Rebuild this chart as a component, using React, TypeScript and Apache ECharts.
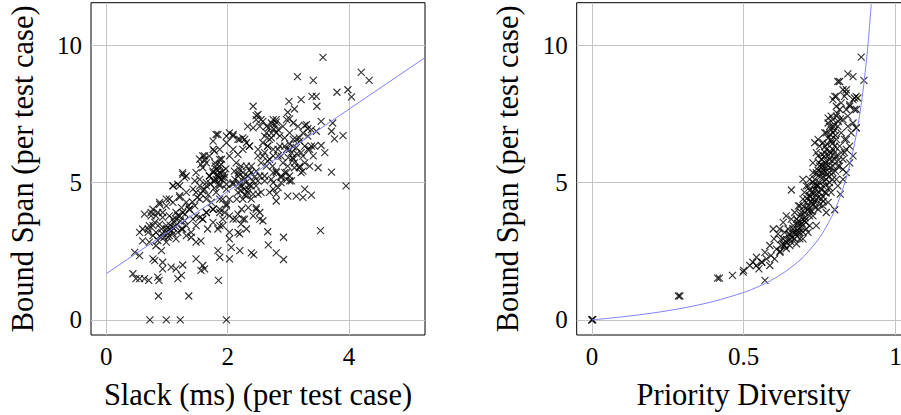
import React, { useEffect, useRef } from "react";
import * as echarts from "echarts";

// Left panel: Slack (ms) vs Bound Span
const slackPoints: [number, number][] = [
  [3.57,9.56],[3.15,8.86],[3.41,8.72],[4.20,9.01],[4.33,8.72],[3.80,8.29],[3.98,8.38],[4.04,8.12],[3.46,8.14],[3.39,8.14],
  [3.21,8.02],[3.01,7.96],[2.42,7.78],[3.47,7.78],[3.10,7.68],[2.99,7.56],[2.47,7.44],[2.55,7.29],[2.75,7.29],[2.80,7.20],
  [3.02,7.32],[3.27,7.08],[3.32,6.96],[3.54,7.23],[3.73,7.17],[3.71,6.87],[3.76,6.59],[3.90,6.71],[3.54,6.35],[3.60,6.09],
  [3.49,5.54],[3.71,5.38],[3.95,4.88],[3.24,5.42],[3.18,5.54],[2.99,5.60],[3.10,5.72],[3.32,6.21],[3.38,6.33],[3.13,6.57],
  [3.18,6.63],[2.94,6.33],[3.02,6.21],[2.61,6.69],[2.69,6.57],[2.83,6.93],[2.64,7.05],[2.33,7.05],[2.66,6.33],[2.83,6.21],
  [2.88,5.96],[3.07,5.91],[3.24,5.96],[2.28,6.57],[2.36,6.33],[2.50,6.21],[2.58,5.96],[2.66,5.78],[2.74,5.60],[2.80,5.42],
  [2.97,5.36],[2.88,5.24],[2.39,5.60],[2.47,5.42],[2.33,5.24],[2.61,5.24],[2.72,5.12],[2.50,5.06],
  [3.27,4.76],[3.38,4.54],[2.99,4.51],[3.13,4.51],[3.24,4.46],[2.80,4.33],[2.75,4.76],[2.88,5.00],[3.02,5.06],[2.50,4.58],
  [2.39,4.88],[2.33,4.64],[2.28,4.76],[2.47,4.03],[2.53,3.91],[2.58,3.61],[2.28,3.67],[2.66,3.21],[2.92,3.01],[3.53,3.25],
  [2.67,2.73],[2.80,2.44],[2.92,2.20],[2.39,2.44],[2.43,2.37],
  [0.72,0],[0.99,0],[1.22,0],[1.98,0],[0.86,0.87],[1.36,0.87],[1.85,1.44],
  [0.44,1.68],[0.49,1.50],[0.55,1.50],[0.63,1.50],[0.70,1.44],[0.85,1.56],[0.87,1.44],[1.18,1.50],[1.24,1.62],
  [0.93,1.86],[1.07,1.92],[1.15,1.86],[1.26,2.00],[0.93,2.10],[0.77,2.22],[0.80,2.16],[1.48,2.22],[1.59,1.98],[1.62,1.86],
  [1.56,1.80],[0.47,2.46],[0.55,2.34],[1.84,2.52],[1.87,2.28],[2.03,2.22],[2.06,2.64],[2.20,2.52],
  [0.60,2.88],[0.71,2.83],[0.82,2.70],[0.91,2.52],[0.63,3.85],[0.74,3.79],[0.85,3.91],[0.55,3.19],[0.69,3.31],[0.77,3.43],
  [0.88,3.49],[0.99,3.31],[1.10,3.37],[1.04,3.07],[1.18,3.19],[1.26,3.31],[1.32,3.07],[1.40,3.01],[1.48,2.83],[1.56,2.88],
  [0.93,3.73],[1.04,3.79],[1.15,3.67],[1.26,3.91],[1.37,4.03],[1.48,3.79],[1.59,3.67],[1.67,3.31],[1.76,3.55],[1.87,3.43],
  [1.92,3.67],[2.03,3.79],[0.88,4.21],[0.99,4.40],[1.10,4.28],[1.21,4.46],[1.32,4.64],[1.43,4.76],[1.54,4.88],[1.65,5.00],
  [1.76,5.06],[1.87,4.88],[1.98,4.76],[2.09,4.94],[2.20,5.00],[0.77,4.03],[2.17,3.19],[2.14,3.67],[2.22,3.49],
  [1.54,3.73],[1.65,3.91],[1.76,4.03],[1.87,4.03],[1.95,3.91],[1.98,4.21],[1.87,4.40],
  [1.81,6.75],[1.98,6.69],[2.09,6.75],[2.17,6.57],[2.25,6.63],[1.87,6.21],[1.78,6.15],[1.62,5.84],[1.70,5.96],[1.56,5.66],
  [1.59,5.54],[1.87,5.84],[1.89,5.66],[1.26,5.30],[1.32,5.24],[2.14,5.72],[2.22,5.60],[2.11,5.42],[2.17,5.24],[2.25,5.36],
  [1.48,5.36],[1.54,5.12],[1.46,5.06],[1.76,5.42],[1.87,5.36],[1.92,5.18],[1.81,5.12],[1.70,5.24],[1.10,4.88],[1.18,4.94],
  [2.09,5.00],[2.20,4.88],
  [2.20,5.48],[2.31,5.60],[2.39,5.36],[2.28,5.12],[2.42,5.06],[2.53,5.24],[2.23,4.88],[2.34,4.76],[2.47,4.88],[2.61,5.06],
  [2.17,4.64],[2.31,4.52],[2.42,4.58],[2.55,4.64],[2.25,4.40],[2.39,4.40],[2.12,5.12],[2.15,4.40],[2.50,5.97],[2.61,6.09],
  [2.69,5.85],[2.55,5.72],[2.64,5.60],[2.75,5.97],[2.66,6.33],[2.58,6.45],[2.72,6.63],[2.80,6.81],[2.64,6.81],[2.53,7.05],
  [2.47,7.29],[2.58,7.23],[2.72,7.17],[2.80,7.29],[2.50,7.48],[2.42,6.99],
  [1.81,5.48],[1.87,5.60],[1.92,5.42],[1.84,5.24],[1.90,5.12],[1.95,5.18],[1.79,5.06],[1.98,4.94],[1.87,4.94],[1.76,5.36],
  [1.70,5.24],[1.90,5.85],[1.79,5.72],[1.65,4.88],[1.59,4.70],[1.48,4.64],[1.54,4.40],[1.65,4.40],[1.46,4.15],[1.37,4.03],
  [1.32,4.28],[1.24,4.09],[1.15,3.91],[1.10,3.67],[1.21,3.79],[1.29,3.61],[0.99,3.43],[0.91,3.31],[0.82,3.19],[0.93,3.13],
  [1.02,3.01],[0.85,2.89],[0.77,3.07],[0.69,3.19],[0.60,3.31],[0.71,3.43],[0.80,3.55],[1.04,3.31],[1.10,3.13],[0.99,2.83],
  [1.15,2.95],[1.24,3.31],[1.32,3.43],[1.40,3.19],[1.48,3.43],[1.43,3.67],[1.59,3.67],[1.65,3.91],[1.76,4.03],[1.87,3.91],
  [1.98,4.15],[2.03,4.40],[1.92,4.40],[1.81,4.64],[1.73,4.28],[1.84,3.31],[1.92,3.43],[2.03,3.19],[2.09,3.67],[2.17,3.85],
  [2.25,3.67],[2.23,4.03],[2.34,4.09],[2.47,4.09],[2.53,3.67],[2.42,3.79],[2.03,2.95],[2.20,3.13],[2.31,3.31],
  [1.10,4.88],[1.21,4.52],[1.04,4.40],[0.99,4.15],[0.88,4.28],[0.93,3.91],[0.82,3.79],[0.74,3.91],[1.21,4.88],[1.26,5.36],
  [1.29,5.18],[1.54,5.85],[1.59,5.97],[1.65,5.72],[1.76,6.21],[1.84,6.75],[2.03,6.81],[2.09,6.69],[1.98,6.45],[2.20,6.57],
  [2.31,6.45],[2.25,6.21],[2.36,6.33],[2.09,6.21],[2.17,6.03],[2.03,5.97],[1.76,6.51],[1.62,5.97],
  [2.86,6.33],[2.97,6.21],[3.05,6.09],[3.00,5.91],[3.08,5.85],[3.13,6.27],[3.21,6.09],[3.27,6.33],[3.19,6.51],[3.08,6.57],
  [3.32,6.69],[3.24,6.81],[3.38,6.93],[3.46,6.87],[3.30,7.11],[3.16,7.05],[3.08,7.17],[2.97,7.29],[2.91,7.05],[3.02,6.81],
  [2.94,6.63],[3.19,5.60],[3.27,5.72],[3.35,5.60],[3.21,5.36],[3.10,5.54],[3.02,5.24],[2.94,5.36],[2.88,5.18],[2.80,5.36],
  [2.97,5.12],[3.05,5.06],[2.75,5.00],[2.83,4.82],[2.69,4.64],[2.80,4.58],[2.75,5.36],[3.41,5.97],[3.35,6.21],[3.43,6.33],
  [2.75,6.21],[2.83,5.97],[2.91,5.72],
  [1.00,3.20],[1.05,3.45],[1.12,3.55],[1.18,3.80],[1.22,3.60],[1.30,3.85],[1.35,4.15],[1.42,4.30],[1.50,4.45],[1.56,4.60],
  [1.62,4.75],[1.68,4.55],[1.72,4.95],[1.78,4.80],[1.83,5.30],[1.86,5.15],[1.94,5.30],[1.84,5.45],[1.80,5.60],[1.97,5.50],
  [2.18,5.35],[2.26,5.20],[2.30,5.00],[2.36,4.90],[2.22,4.70],[2.28,4.55],[2.36,5.45],[2.44,5.20],[2.72,6.80],[2.76,6.95],
  [2.68,7.00],[2.78,7.10],[2.86,6.70],[3.02,6.40],[3.08,6.30],[3.14,6.05],[0.95,3.00],[0.88,3.05],[1.08,3.25],[1.14,3.40]
];

// Fitted line
const slackFit: [number, number][] = [[0, 1.68], [5.25, 9.55]];

// Right panel: Priority Diversity vs Bound Span
const diversityPoints: [number, number][] = [
  [0,0],[0,0],[0.003,0.01],[0.285,0.87],[0.29,0.87],[0.42,1.52],[0.414,1.52],[0.57,1.44],[0.463,1.62],[0.498,1.74],
  [0.50,1.80],[0.52,1.98],[0.53,2.10],[0.55,1.86],[0.56,2.10],[0.586,1.98],[0.542,2.28],[0.57,2.46],[0.586,2.71],[0.60,2.95],
  [0.613,3.13],[0.597,3.31],[0.619,3.31],[0.63,3.55],[0.64,3.79],[0.657,4.73],[0.619,2.46],[0.635,2.71],[0.652,2.95],[0.674,2.77],
  [0.663,3.19],[0.679,3.43],[0.685,3.19],[0.695,3.67],[0.706,3.31],[0.70,3.91],[0.717,3.79],[0.712,4.15],[0.728,4.40],[0.723,4.64],
  [0.695,5.12],[0.706,4.88],[0.734,5.12],[0.739,4.88],[0.728,5.72],[0.745,6.57],[0.75,5.60],[0.761,5.36],[0.756,4.40],[0.745,4.03],
  [0.739,3.43],[0.767,4.64],[0.772,6.21],[0.783,5.85],[0.772,6.81],[0.783,7.05],[0.794,7.29],[0.805,7.42],[0.788,6.57],[0.80,6.33],
  [0.805,5.97],[0.816,5.60],[0.794,5.36],[0.783,5.00],[0.80,4.01],[0.818,4.58],[0.81,4.88],[0.827,5.85],[0.832,6.09],[0.838,6.57],
  [0.849,5.72],[0.843,7.05],[0.86,7.17],[0.87,6.99],[0.805,7.78],[0.821,7.90],[0.832,8.14],[0.849,7.78],[0.86,8.02],[0.87,8.14],
  [0.865,7.66],[0.81,8.68],[0.838,8.38],[0.80,8.14],[0.843,8.96],[0.86,8.86],[0.887,9.57],[0.896,8.72],[0.876,8.08],
  [0.685,4.15],[0.695,4.40],[0.706,4.28],[0.717,4.52],[0.734,4.28],[0.75,4.64],[0.761,4.88],[0.739,5.36],[0.756,5.85],[0.767,6.09],
  [0.761,6.45],[0.778,5.60],[0.788,6.09],[0.794,6.81],[0.81,7.05],[0.821,6.81],[0.816,6.33],[0.832,6.57],[0.838,5.36],[0.827,5.12],
  [0.761,4.15],[0.772,3.91],[0.728,3.79],[0.712,3.19],[0.674,3.67],[0.663,3.43],[0.685,2.95],[0.652,2.71],[0.63,2.95],[0.717,3.43],
  [0.739,4.40],[0.745,4.88],[0.728,5.36],[0.717,5.12],[0.712,4.88],[0.739,6.09],[0.75,6.33],[0.767,6.81],[0.778,7.17],[0.788,7.42],
  [0.805,6.57],[0.821,6.09],[0.794,5.60],[0.805,5.12],[0.788,4.64],[0.778,4.28],[0.70,4.64],[0.69,3.91],[0.68,4.15],[0.668,3.91],
  [0.657,3.67],[0.646,3.31],[0.635,3.19],[0.68,3.19],[0.695,2.95],[0.668,2.95],[0.64,2.83],[0.608,2.58],[0.59,2.34],[0.575,2.22],
  [0.559,2.10],[0.542,1.98],[0.602,2.22],[0.624,2.71],[0.734,6.45],[0.745,5.97],[0.756,5.36],[0.772,5.12],[0.783,5.36],[0.767,5.60],
  [0.80,5.85],[0.81,5.60],[0.827,5.48],[0.838,6.21],[0.849,6.33],[0.827,7.29],[0.843,7.42],[0.854,6.81],[0.86,5.97],[0.816,7.66],
  [0.794,8.02],[0.778,7.35],[0.805,8.14],[0.816,8.68],[0.871,6.99],[0.871,7.66],[0.865,8.08],[0.849,7.84],[0.838,7.66],[0.827,8.38],
  [0.838,8.26],[0.72,4.0],[0.73,4.2],[0.74,4.6],[0.75,5.0],[0.76,5.2],[0.77,5.4],[0.75,4.2],[0.76,4.5],[0.77,4.9],
  [0.78,5.2],[0.79,5.8],[0.80,6.1],[0.79,6.5],[0.80,6.9],[0.78,6.0],[0.77,5.7],[0.76,5.6],[0.74,5.3],[0.73,4.9],
  [0.72,4.5],[0.71,4.0],[0.70,3.6],[0.69,3.4],[0.68,3.6],[0.67,3.2],[0.66,3.0],[0.65,3.1],[0.64,2.6],[0.62,2.5],
  [0.755,4.75],[0.765,5.05],[0.775,5.30],[0.785,5.55],[0.795,6.20],[0.775,6.40],[0.785,6.75],[0.795,7.05],[0.745,4.45],[0.735,4.10],
  [0.725,3.95],[0.705,3.55],[0.695,3.20],[0.675,3.05],[0.655,2.85],[0.765,5.95],[0.755,5.65],[0.745,5.45],[0.735,4.75],[0.725,4.25],
  [0.742,4.92],[0.752,5.22],[0.762,5.48],[0.772,5.78],[0.782,6.12],[0.792,6.42],[0.802,6.72],[0.812,7.22],[0.732,4.62],[0.722,4.32],
  [0.712,4.02],[0.702,3.72],[0.692,3.52],[0.682,3.32],[0.672,3.12],[0.662,3.32],[0.652,3.12],[0.642,2.92],[0.632,2.72],[0.622,2.92],
  [0.748,5.72],[0.758,6.02],[0.768,6.32],[0.778,6.62],[0.788,6.92],[0.798,7.12],[0.808,7.52],[0.818,7.32],[0.728,5.02],[0.718,4.72],
  [0.708,4.42],[0.698,4.12],[0.688,3.82],[0.678,3.52],[0.762,4.32],[0.772,4.62],[0.782,4.82],[0.792,5.12],[0.802,5.42],[0.812,5.82]
];

// Fitted curve
const diversityFit: [number, number][] = [
  [0,0],[0.1,0.11],[0.2,0.25],[0.3,0.43],[0.4,0.67],[0.5,1.0],[0.55,1.22],[0.6,1.5],[0.65,1.86],[0.7,2.33],
  [0.75,3.0],[0.78,3.55],[0.8,4.0],[0.82,4.56],[0.84,5.25],[0.86,6.14],[0.88,7.33],[0.89,8.1],[0.9,9.0],[0.91,10.1],[0.92,11.5]
];

const leftTicks = [0, 2, 4];
const rightTicks = [0, 0.5, 1];
const yTicks = [0, 5, 10];

const FONT = "Liberation Serif";
const CROSS = "path://M0,0L10,10M10,0L0,10";

export default function App() {
  const ref = useRef<HTMLDivElement>(null);
  useEffect(() => {
    if (!ref.current) return;
    const chart = echarts.init(ref.current, undefined, { renderer: "svg" });
    const axisLabel = (vals: number[]) => ({
      customValues: vals,
      color: "#000",
      fontFamily: FONT,
      fontSize: 25,
      margin: 9,
    });
    const splitLine = { show: true, lineStyle: { color: "#c4c4c4", width: 1 } };
    const nameStyle = { fontFamily: FONT, fontSize: 30.5, color: "#000" };
    const mkX = (idx: number, name: string, min: number, max: number, ticks: number[]) => ({
      type: "value",
      gridIndex: idx,
      min,
      max,
      name,
      nameLocation: "middle",
      nameGap: 44,
      nameTextStyle: nameStyle,
      axisLine: { show: false },
      axisTick: { show: false, customValues: ticks },
      axisLabel: axisLabel(ticks),
      splitLine,
    });
    const mkY = (idx: number) => ({
      type: "value",
      gridIndex: idx,
      min: -0.55,
      max: 11.55,
      name: "Bound Span (per test case)",
      nameLocation: "middle",
      nameGap: 53,
      nameTextStyle: nameStyle,
      axisLine: { show: false },
      axisTick: { show: false, customValues: yTicks },
      axisLabel: axisLabel(yTicks),
      splitLine,
    });
    const scatterStyle = {
      color: "rgba(0,0,0,0)",
      borderColor: "#000",
      borderWidth: 1.15,
    };
    chart.setOption({
      animation: false,
      grid: [
        { left: 91, top: 2.7, width: 334, height: 334, show: true, borderColor: "#000", borderWidth: 1 },
        { left: 576.7, top: 2.7, width: 334, height: 334, show: true, borderColor: "#000", borderWidth: 1 },
      ],
      xAxis: [
        mkX(0, "Slack (ms) (per test case)", -0.25, 5.25, leftTicks),
        mkX(1, "Priority Diversity", -0.05, 1.05, rightTicks),
      ],
      yAxis: [mkY(0), mkY(1)],
      series: [
        {
          type: "scatter",
          xAxisIndex: 0,
          yAxisIndex: 0,
          data: slackPoints,
          symbol: CROSS,
          symbolSize: 7,
          itemStyle: scatterStyle,
        },
        {
          type: "line",
          xAxisIndex: 0,
          yAxisIndex: 0,
          data: slackFit,
          showSymbol: false,
          lineStyle: { color: "#8080ff", width: 1 },
          z: 3,
        },
        {
          type: "scatter",
          xAxisIndex: 1,
          yAxisIndex: 1,
          data: diversityPoints,
          symbol: CROSS,
          symbolSize: 7,
          itemStyle: scatterStyle,
        },
        {
          type: "line",
          xAxisIndex: 1,
          yAxisIndex: 1,
          data: diversityFit,
          showSymbol: false,
          smooth: 0.3,
          clip: true,
          lineStyle: { color: "#8080ff", width: 1 },
          z: 3,
        },
      ],
    });
    return () => chart.dispose();
  }, []);
  return (
    <div style={{ position: "absolute", left: 0, top: 0, width: 901, height: 415, overflow: "hidden", background: "#fff" }}>
      <div ref={ref} style={{ width: 915, height: 415 }} />
    </div>
  );
}
